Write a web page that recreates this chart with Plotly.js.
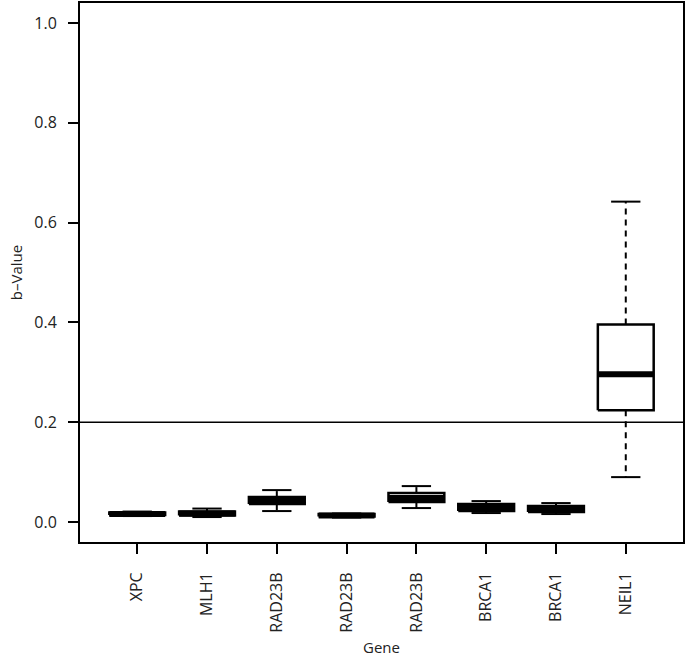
<!DOCTYPE html>
<html lang="en">
<head>
<meta charset="UTF-8"/>
<title>b-Value by gene</title>
<script src="https://cdn.plot.ly/plotly-3.0.1.min.js"></script>
<style>
body { margin: 0; background: white; }
#chart { width: 685px; height: 659px; }
</style>
</head>
<body>
<div id="chart"></div>
<script>
// values
var genes = ['XPC', 'MLH1', 'RAD23B', 'RAD23B', 'RAD23B', 'BRCA1', 'BRCA1', 'NEIL1'];
var lowerWhisker = [0.012, 0.010, 0.022, 0.009, 0.028, 0.018, 0.016, 0.090];
var q1 = [0.014, 0.013, 0.036, 0.011, 0.040, 0.022, 0.020, 0.224];
var median = [0.016, 0.017, 0.043, 0.013, 0.048, 0.029, 0.026, 0.296];
var q3 = [0.019, 0.021, 0.050, 0.016, 0.058, 0.036, 0.032, 0.396];
var upperWhisker = [0.021, 0.027, 0.064, 0.017, 0.072, 0.042, 0.038, 0.642];
var cutoff = 0.2;
var yTicks = [0, 0.2, 0.4, 0.6, 0.8, 1.0];

var pos = genes.map(function (g, i) { return i + 1; });
var boxHalf = 0.4, capHalf = 0.21;

var traces = [];

// dashed whiskers
var wx = [], wy = [];
pos.forEach(function (p, i) {
    wx.push(p, p, null, p, p, null);
    wy.push(q3[i], upperWhisker[i], null, q1[i], lowerWhisker[i], null);
});
traces.push({
    x: wx, y: wy, type: 'scatter', mode: 'lines',
    line: { color: 'black', width: 2, dash: '6px,5px' }, hoverinfo: 'skip'
});

// whisker caps
var cx = [], cy = [];
pos.forEach(function (p, i) {
    cx.push(p - capHalf, p + capHalf, null, p - capHalf, p + capHalf, null);
    cy.push(upperWhisker[i], upperWhisker[i], null, lowerWhisker[i], lowerWhisker[i], null);
});
traces.push({
    x: cx, y: cy, type: 'scatter', mode: 'lines',
    line: { color: 'black', width: 2 }, hoverinfo: 'skip'
});

// boxes
pos.forEach(function (p, i) {
    traces.push({
        x: [p - boxHalf, p + boxHalf, p + boxHalf, p - boxHalf, p - boxHalf],
        y: [q1[i], q1[i], q3[i], q3[i], q1[i]],
        type: 'scatter', mode: 'lines', fill: 'toself', fillcolor: 'white',
        line: { color: 'black', width: 2.5 }, hoverinfo: 'skip'
    });
});

// medians
var mx = [], my = [];
pos.forEach(function (p, i) {
    mx.push(p - boxHalf, p + boxHalf, null);
    my.push(median[i], median[i], null);
});
traces.push({
    x: mx, y: my, type: 'scatter', mode: 'lines',
    line: { color: 'black', width: 6 }, hoverinfo: 'skip'
});

var tickFont = { family: 'Open Sans, sans-serif', size: 16, color: '#222' };
var titleFont = { family: 'Open Sans, sans-serif', size: 15, color: '#222' };

var layout = {
    width: 685, height: 659,
    margin: { l: 80, r: 2, t: 3, b: 117 },
    paper_bgcolor: 'white', plot_bgcolor: 'white',
    showlegend: false,
    font: tickFont,
    xaxis: {
        range: [0.18, 8.82],
        tickvals: pos, ticktext: genes, tickangle: -90, tickfont: tickFont,
        ticks: 'outside', ticklen: 10, tickwidth: 2, tickcolor: 'black',
        ticklabelstandoff: 12,
        showline: true, mirror: true, linecolor: 'black', linewidth: 2,
        showgrid: false, zeroline: false,
        title: { text: 'Gene', font: titleFont, standoff: 11 }
    },
    yaxis: {
        range: [-0.04, 1.04],
        tickvals: yTicks, ticktext: yTicks.map(function (v) { return v.toFixed(1); }),
        tickfont: tickFont,
        ticks: 'outside', ticklen: 10, tickwidth: 2, tickcolor: 'black',
        ticklabelstandoff: 8,
        showline: true, mirror: true, linecolor: 'black', linewidth: 2,
        showgrid: false, zeroline: false,
        title: { text: 'b\u2013Value', font: titleFont, standoff: 8 }
    },
    shapes: [{
        type: 'line', xref: 'paper', x0: 0, x1: 1, yref: 'y', y0: cutoff, y1: cutoff,
        line: { color: 'black', width: 1.5 }
    }]
};

Plotly.newPlot('chart', traces, layout, { staticPlot: true });
</script>
</body>
</html>
